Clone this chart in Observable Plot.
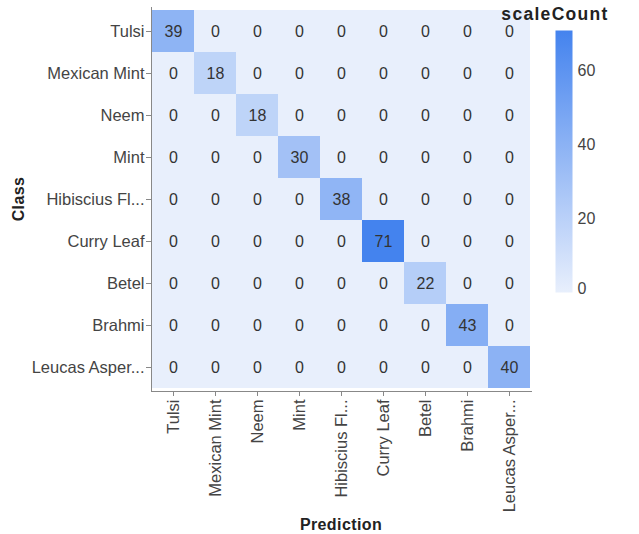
<!DOCTYPE html>
<html>
<head>
<meta charset="utf-8">
<script src="https://cdn.jsdelivr.net/npm/d3@7"></script>
<script src="https://cdn.jsdelivr.net/npm/@observablehq/plot@0.6"></script>
<style>
  html, body { margin: 0; padding: 0; background: #fff; overflow: hidden; }
  #wrap { position: relative; width: 639px; height: 534px; overflow: hidden; font-family: "Liberation Sans", Arial, sans-serif; }
  #main { position: absolute; left: 0; top: 0; }
  #legend { position: absolute; left: 540px; top: 0; }
</style>
</head>
<body>
<div id="wrap"><div id="main"></div><div id="legend"></div></div>
<script>
const classes = ["Tulsi", "Mexican Mint", "Neem", "Mint", "Hibiscius Fl...", "Curry Leaf", "Betel", "Brahmi", "Leucas Asper..."];
const counts = [
  [39, 0, 0, 0, 0, 0, 0, 0, 0],
  [0, 18, 0, 0, 0, 0, 0, 0, 0],
  [0, 0, 18, 0, 0, 0, 0, 0, 0],
  [0, 0, 0, 30, 0, 0, 0, 0, 0],
  [0, 0, 0, 0, 38, 0, 0, 0, 0],
  [0, 0, 0, 0, 0, 71, 0, 0, 0],
  [0, 0, 0, 0, 0, 0, 22, 0, 0],
  [0, 0, 0, 0, 0, 0, 0, 43, 0],
  [0, 0, 0, 0, 0, 0, 0, 0, 40]
];
const legendTicks = [0, 20, 40, 60];
const colorDomain = [0, 71];
const colorRange = ["#e8effc", "#4483ee"];

const cells = [];
counts.forEach((row, i) => row.forEach((v, j) => cells.push({cls: classes[i], pred: classes[j], count: v})));

const FONT = "'Liberation Sans', Arial, sans-serif";
const W = 545, H = 534, mL = 151, mR = 14, mT = 7, mB = 143;
const main = Plot.plot({
  width: W, height: H,
  marginLeft: mL, marginRight: mR, marginTop: mT, marginBottom: mB,
  style: {fontFamily: FONT, background: "white", overflow: "visible"},
  x: {domain: classes, padding: 0, axis: null},
  y: {domain: classes, padding: 0, axis: null},
  color: {type: "linear", domain: colorDomain, range: colorRange, interpolate: "rgb"},
  marks: [
    Plot.cell(cells, {x: "pred", y: "cls", fill: "count"}),
    Plot.text(cells, {x: "pred", y: "cls", text: "count", fill: "#333", fontSize: 16}),
    Plot.axisX({anchor: "bottom", tickRotate: -90, tickSize: 5, tickPadding: 3, fontSize: 16.5, label: null, color: "#444", stroke: "#888"}),
    Plot.axisY({anchor: "left", tickSize: 5, tickPadding: 2, fontSize: 16.5, label: null, color: "#444", stroke: "#888"}),
    Plot.frame({anchor: "left", stroke: "#888"}),
    Plot.frame({anchor: "bottom", stroke: "#888"})
  ]
});
const s = d3.select(main);
s.selectAll("[aria-label='x-axis tick'] path, [aria-label='y-axis tick'] path").attr("stroke", "#888");
s.selectAll("[aria-label='x-axis tick label'], [aria-label='y-axis tick label']").attr("fill", "#444");
s.append("text").text("Prediction")
  .attr("x", mL + (W - mL - mR) / 2).attr("y", 530)
  .attr("text-anchor", "middle").attr("font-weight", "bold").attr("font-size", 16).attr("letter-spacing", 0.4).attr("fill", "#222")
  .attr("font-family", FONT);
s.append("text").text("Class")
  .attr("transform", `translate(24,${mT + (H - mT - mB) / 2}) rotate(-90)`)
  .attr("text-anchor", "middle").attr("font-weight", "bold").attr("font-size", 16).attr("letter-spacing", 0.4).attr("fill", "#222")
  .attr("font-family", FONT);
document.getElementById("main").appendChild(main);

// Legend
const interp = d3.interpolateRgb(colorRange[0], colorRange[1]);
const legend = Plot.plot({
  width: 99, height: 300,
  marginLeft: 15, marginRight: 67, marginTop: 30, marginBottom: 8,
  style: {fontFamily: FONT, background: "transparent", overflow: "visible"},
  x: {axis: null},
  y: {domain: colorDomain, axis: null},
  marks: [
    Plot.frame({fill: "url(#legend-grad)", stroke: null}),
    Plot.text(legendTicks.filter(d => d !== 0), {y: d => d, frameAnchor: "right", dx: 5, textAnchor: "start", fontSize: 16, fill: "#444"}),
    Plot.text(legendTicks.filter(d => d === 0), {y: d => d, frameAnchor: "right", dx: 5, dy: -4, textAnchor: "start", fontSize: 16, fill: "#444"})
  ]
});
const ls = d3.select(legend);
const grad = ls.insert("defs", ":first-child").append("linearGradient")
  .attr("id", "legend-grad").attr("x1", 0).attr("y1", 1).attr("x2", 0).attr("y2", 0);
[0, 0.25, 0.5, 0.75, 1].forEach(t => grad.append("stop").attr("offset", t).attr("stop-color", interp(t)));
ls.append("text").text("scaleCount")
  .attr("x", 15).attr("y", 20).attr("font-weight", "bold").attr("font-size", 17.5).attr("letter-spacing", 1.3).attr("fill", "#222")
  .attr("font-family", FONT);
document.getElementById("legend").appendChild(legend);
</script>
</body>
</html>
